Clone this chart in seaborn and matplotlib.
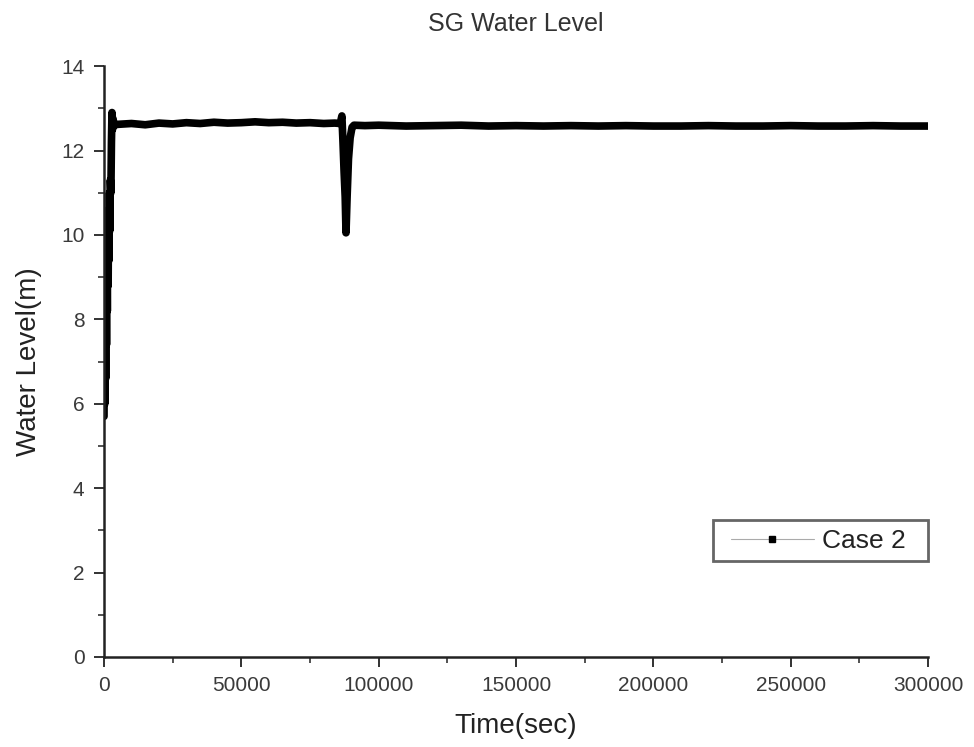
import matplotlib
matplotlib.use("Agg")
import matplotlib.pyplot as plt
from matplotlib.lines import Line2D
from matplotlib.legend_handler import HandlerLine2D
from matplotlib.ticker import MultipleLocator
import seaborn as sns
import pandas as pd

# start-up transient (sec, m)
t_start = [0, 150, 300, 450, 600, 750, 900, 1050, 1200, 1350, 1500, 1650, 1800,
           1950, 2100, 2300, 2500, 2700, 2900, 3100, 3300, 3600]
lvl_start = [5.7, 8.5, 6.0, 8.9, 6.6, 9.3, 7.4, 9.8, 8.2, 10.2, 8.8, 10.6, 9.4,
             11.0, 10.1, 11.3, 11.0, 12.2, 12.9, 12.5, 12.75, 12.6]

# plateau before the dip
t_pre = [5000, 10000, 15000, 20000, 25000, 30000, 35000, 40000, 45000, 50000,
         55000, 60000, 65000, 70000, 75000, 80000, 84000, 86000]
lvl_pre = [12.62, 12.64, 12.61, 12.65, 12.63, 12.66, 12.64, 12.67, 12.65, 12.66,
           12.68, 12.66, 12.67, 12.65, 12.66, 12.64, 12.65, 12.64]

# dip around 88000 s
t_dip = [86600, 87000, 87400, 87800, 88100, 88500, 89000, 89600, 90300, 91000]
lvl_dip = [12.82, 12.2, 11.5, 10.9, 10.05, 10.9, 11.8, 12.3, 12.55, 12.6]

# plateau after the dip
t_post = [95000, 100000, 110000, 120000, 130000, 140000, 150000, 160000, 170000,
          180000, 190000, 200000, 210000, 220000, 230000, 240000, 250000, 260000,
          270000, 280000, 290000, 300000]
lvl_post = [12.59, 12.60, 12.58, 12.59, 12.60, 12.58, 12.59, 12.58, 12.59, 12.58,
            12.59, 12.58, 12.58, 12.59, 12.58, 12.58, 12.59, 12.58, 12.58, 12.59,
            12.58, 12.58]

df = pd.DataFrame({
    "Time(sec)": t_start + t_pre + t_dip + t_post,
    "Water Level(m)": lvl_start + lvl_pre + lvl_dip + lvl_post,
})

sns.set_style("ticks")
plt.rcParams["font.family"] = ["Liberation Sans", "DejaVu Sans"]

fig = plt.figure(figsize=(9.74, 7.47), dpi=100)
ax = fig.add_axes([0.1068, 0.1205, 0.846, 0.791])

sns.lineplot(data=df, x="Time(sec)", y="Water Level(m)", ax=ax,
             color="black", linewidth=5.5, sort=False, estimator=None)

ax.set_xlim(0, 300000)
ax.set_ylim(0, 14)
ax.xaxis.set_major_locator(MultipleLocator(50000))
ax.xaxis.set_minor_locator(MultipleLocator(25000))
ax.yaxis.set_major_locator(MultipleLocator(2))
ax.yaxis.set_minor_locator(MultipleLocator(1))
ax.tick_params(which="major", direction="out", length=7, width=1.3,
               labelsize=15, labelcolor="#3a3a3a", color="#222222", pad=7)
ax.tick_params(which="minor", direction="out", length=4, width=1.1, color="#222222")

sns.despine(ax=ax)
for side in ["left", "bottom"]:
    ax.spines[side].set_linewidth(1.8)
    ax.spines[side].set_color("#222222")

ax.set_xlabel("Time(sec)", fontsize=20, color="#222222", labelpad=13)
ax.set_ylabel("Water Level(m)", fontsize=20, color="#222222", labelpad=14)
ax.set_title("SG Water Level", fontsize=18, color="#333333", pad=25)

# legend box spans roughly 713..929 px horizontally
handle = Line2D([0], [0], color="#aaaaaa", linewidth=0.8, marker="s",
                markersize=4, markerfacecolor="black", markeredgecolor="black")
leg = ax.legend([handle], ["Case 2"], loc="lower left",
                bbox_to_anchor=(0.739, 0.162, 0.261, 0.07), mode="expand",
                borderaxespad=0, fontsize=19, frameon=True, fancybox=False,
                handlelength=3.5, borderpad=0.32, handletextpad=0.3,
                labelcolor="#222222",
                handler_map={Line2D: HandlerLine2D(xpad=0.35)})
leg.get_frame().set_edgecolor("#666666")
leg.get_frame().set_linewidth(2)
leg.get_frame().set_facecolor("white")
leg.get_frame().set_alpha(1)

fig.savefig("out.png", dpi=100)
